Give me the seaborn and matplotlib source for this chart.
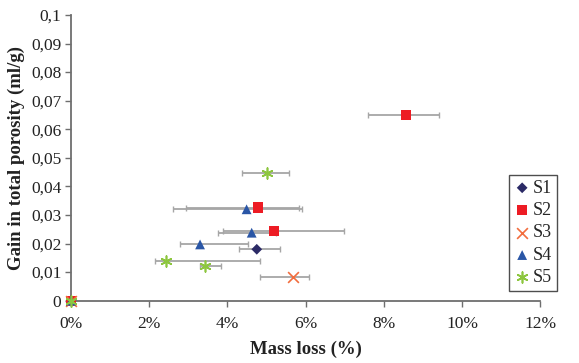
import matplotlib
matplotlib.use("Agg")
import matplotlib.pyplot as plt
from matplotlib.ticker import FuncFormatter, MultipleLocator
import seaborn as sns
import pandas as pd

# Mass loss (%) and gain in total porosity (ml/g) per sample series,
# with the lower / upper ends of the mass-loss error bars.
s1_x = [0.0, 4.75]
s1_y = [0.0, 0.0180]
s1_lo = [0.0, 4.30]
s1_hi = [0.0, 5.35]

s2_x = [0.0, 4.79, 5.19, 8.57]
s2_y = [0.0, 0.0326, 0.0245, 0.0651]
s2_lo = [0.0, 2.93, 3.89, 7.59]
s2_hi = [0.0, 5.82, 6.98, 9.42]

s3_x = [0.0, 5.68]
s3_y = [0.0, 0.0084]
s3_lo = [0.0, 4.82]
s3_hi = [0.0, 6.09]

s4_x = [0.0, 4.49, 4.62, 3.30]
s4_y = [0.0, 0.0320, 0.0238, 0.0197]
s4_lo = [0.0, 2.60, 3.76, 2.78]
s4_hi = [0.0, 5.90, 5.25, 4.53]

s5_x = [0.0, 5.00, 2.44, 3.43]
s5_y = [0.0, 0.0446, 0.0140, 0.0121]
s5_lo = [0.0, 4.38, 2.14, 3.29]
s5_hi = [0.0, 5.58, 4.84, 3.83]

series_names = ["S1", "S2", "S3", "S4", "S5"]
series = {
    "S1": (s1_x, s1_y, s1_lo, s1_hi),
    "S2": (s2_x, s2_y, s2_lo, s2_hi),
    "S3": (s3_x, s3_y, s3_lo, s3_hi),
    "S4": (s4_x, s4_y, s4_lo, s4_hi),
    "S5": (s5_x, s5_y, s5_lo, s5_hi),
}

colors = {"S1": "#2b2a66", "S2": "#ed1c24", "S3": "#f26d3d",
          "S4": "#2a56a6", "S5": "#8dc63f"}
markers = {"S1": "D", "S2": "s", "S3": "x", "S4": "^", "S5": (6, 2, 0)}
sizes = {"S1": 30, "S2": 55, "S3": 60, "S4": 50, "S5": 60}

rows = []
for name in series_names:
    xs, ys, lo, hi = series[name]
    for x, y, a, b in zip(xs, ys, lo, hi):
        rows.append({"Sample": name, "mass_loss": x, "porosity": y,
                     "lo": a, "hi": b})
df = pd.DataFrame(rows)

sns.set_style("ticks")
plt.rcParams["font.family"] = ["Liberation Serif", "DejaVu Serif"]

fig = plt.figure(figsize=(5.79, 3.63), dpi=100)
ax = fig.add_axes([0.1226, 0.1716, 0.8106, 0.7871])

# horizontal error bars drawn beneath the markers
eb = df[df["mass_loss"] > 0]
ax.errorbar(eb["mass_loss"], eb["porosity"],
            xerr=[eb["mass_loss"] - eb["lo"], eb["hi"] - eb["mass_loss"]],
            fmt="none", ecolor="#a6a6a6", elinewidth=1.3, capsize=2.5,
            capthick=1.0, zorder=1)

for name in series_names:
    sub = df[df["Sample"] == name]
    sns.scatterplot(data=sub, x="mass_loss", y="porosity", ax=ax,
                    color=colors[name], marker=markers[name], s=sizes[name],
                    linewidth=1.2 if name in ("S3", "S5") else 0,
                    edgecolor=colors[name] if name in ("S3", "S5") else "none",
                    label=name, zorder=3, clip_on=False)

ax.set_xlim(0, 12)
ax.set_ylim(0, 0.1)
ax.xaxis.set_major_locator(MultipleLocator(2))
ax.yaxis.set_major_locator(MultipleLocator(0.01))
ax.xaxis.set_major_formatter(FuncFormatter(lambda v, p: f"{v:.0f}%"))


def comma_fmt(v, p):
    if abs(v) < 1e-9:
        return "0"
    return f"{v:.2f}".rstrip("0").replace(".", ",")


ax.yaxis.set_major_formatter(FuncFormatter(comma_fmt))

for side in ("top", "right"):
    ax.spines[side].set_visible(False)
for side in ("left", "bottom"):
    ax.spines[side].set_color("#6e6e6e")
    ax.spines[side].set_linewidth(1.3)
ax.tick_params(axis="both", direction="out", length=4, width=1.0,
               color="#6e6e6e", labelsize=12.5, labelcolor="#222222", pad=3)
ax.tick_params(axis="x", pad=7)

ax.set_xlabel("Mass loss (%)", fontsize=13.5, fontweight="bold",
              color="#222222", labelpad=6)
ax.set_ylabel("Gain in total porosity (ml/g)", fontsize=13.5,
              fontweight="bold", color="#222222", labelpad=4)

leg = ax.legend(loc="lower right", bbox_to_anchor=(1.035, 0.035),
                frameon=True, fancybox=False, fontsize=13,
                handletextpad=0.1, handlelength=1.0, borderpad=0.25,
                labelspacing=0.3, borderaxespad=0)
leg.get_frame().set_edgecolor("#222222")
leg.get_frame().set_linewidth(1.0)

fig.savefig("out.png", dpi=100)
